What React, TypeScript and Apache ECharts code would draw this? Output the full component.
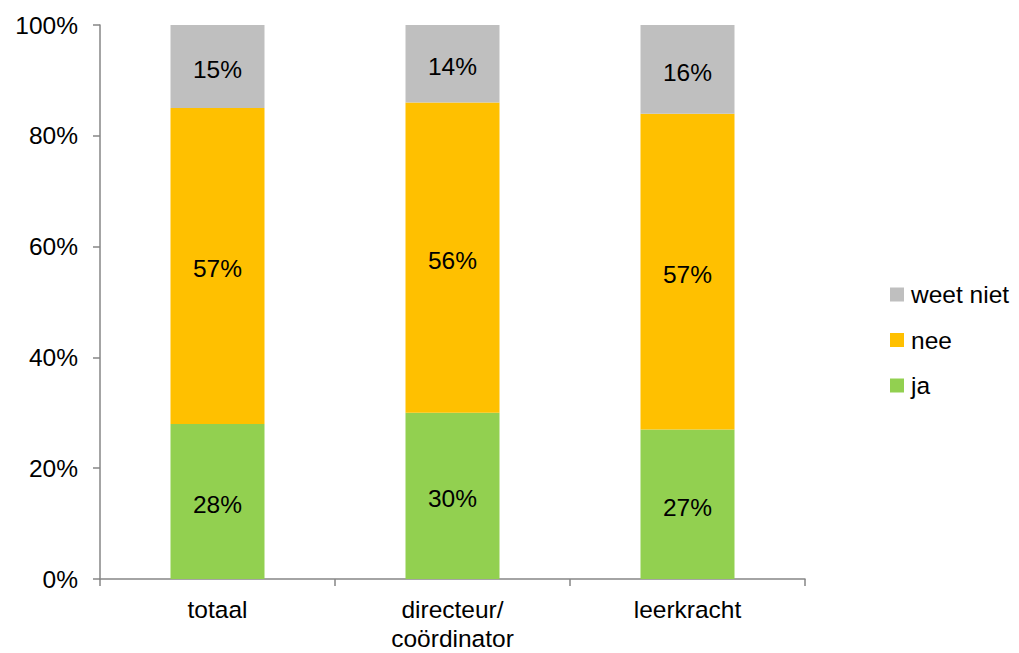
import React, { useEffect, useRef } from "react";
import * as echarts from "echarts";

const categories = ["totaal", "directeur/\ncoördinator", "leerkracht"];
const ja = [28, 30, 27];
const nee = [57, 56, 57];
const weetNiet = [15, 14, 16];
const yTicks = [0, 20, 40, 60, 80, 100];

const FONT = "Liberation Sans, Arial, sans-serif";
const AXIS = "#868686";
const FS = 24.5;

export default function App() {
  const ref = useRef<HTMLDivElement>(null);
  useEffect(() => {
    if (!ref.current) return;
    const chart = echarts.init(ref.current, undefined, { renderer: "svg" });
    const label = {
      show: true,
      position: "inside",
      offset: [0, 3],
      formatter: (p: any) => p.value + "%",
      color: "#000",
      fontSize: FS,
      fontFamily: FONT,
    };
    chart.setOption({
      animation: false,
      grid: { left: 100, right: 214, top: 25, bottom: 72 },
      legend: {
        orient: "vertical",
        left: 885,
        top: 277,
        itemWidth: 14,
        itemHeight: 14,
        itemGap: 20.5,
        icon: "rect",
        data: ["weet niet", "nee", "ja"],
        textStyle: { fontSize: FS, lineHeight: 25, fontFamily: FONT, color: "#000", padding: [0, 0, 0, 2] },
      },
      xAxis: {
        type: "category",
        data: categories,
        axisLine: { lineStyle: { color: AXIS, width: 1.5 } },
        axisTick: { show: true, length: 7, lineStyle: { color: AXIS, width: 1.5 } },
        axisLabel: { fontSize: FS, fontFamily: FONT, color: "#000", margin: 16, lineHeight: 29 },
      },
      yAxis: {
        type: "value",
        min: 0,
        max: 100,
        interval: 20,
        axisLine: { show: true, lineStyle: { color: AXIS, width: 1.5 } },
        axisTick: { show: true, length: 7, lineStyle: { color: AXIS, width: 1.5 } },
        splitLine: { show: false },
        axisLabel: {
          fontSize: FS,
          fontFamily: FONT,
          color: "#000",
          margin: 22,
          formatter: (v: number) => (yTicks.includes(v) ? v + "%" : ""),
        },
      },
      series: [
        { name: "ja", type: "bar", stack: "s", data: ja, barWidth: 94, itemStyle: { color: "#92D050" }, label },
        { name: "nee", type: "bar", stack: "s", data: nee, barWidth: 94, itemStyle: { color: "#FFC000" }, label },
        { name: "weet niet", type: "bar", stack: "s", data: weetNiet, barWidth: 94, itemStyle: { color: "#BFBFBF" }, label },
      ],
    });
    return () => chart.dispose();
  }, []);
  return <div ref={ref} style={{ width: 1019, height: 653, position: "absolute", left: 0, top: 0 }} />;
}
